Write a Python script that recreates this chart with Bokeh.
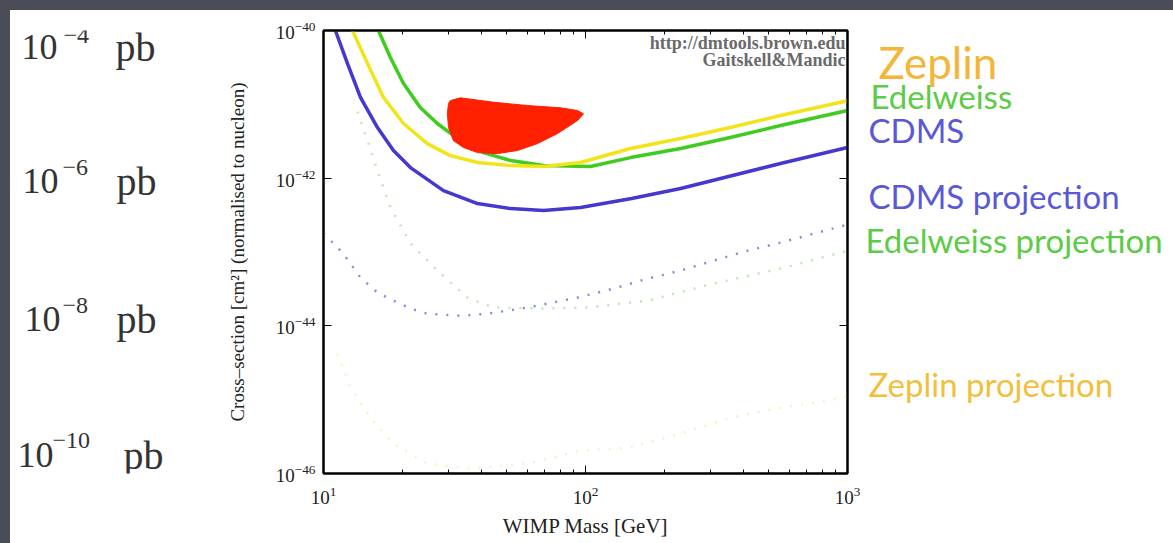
from bokeh.plotting import figure
from bokeh.layouts import row, column
from bokeh.models import Range1d, FixedTicker, LogAxis, Label, CustomJSTickFormatter, Div
from bokeh.core.properties import value
from bokeh.embed import file_html
from bokeh.resources import INLINE

# ---------------- data (WIMP mass in GeV, cross-section in cm^2) ----------------
cdms_mass = [11.1, 12.35, 13.84, 16.07, 18.49, 21.47, 28.7, 38.7, 51.8, 69.2, 95.7, 150, 230.7, 555, 1000]
cdms_xsec = [1e-40, 3.57e-41, 1.24e-41, 4.85e-42, 2.37e-42, 1.39e-42, 6.79e-43, 4.53e-43, 3.87e-43,
             3.64e-43, 4.0e-43, 5.3e-43, 7.23e-43, 1.58e-42, 2.6e-42]

zeplin_mass = [12.9, 14.72, 16.94, 20.2, 24.9, 30.5, 38.7, 51.8, 69.2, 95.7, 148.6, 230.7, 357, 555, 1000]
zeplin_xsec = [1e-40, 3.57e-41, 1.24e-41, 5.5e-42, 2.94e-42, 2.02e-42, 1.63e-42, 1.48e-42, 1.44e-42,
               1.63e-42, 2.52e-42, 3.44e-42, 4.85e-42, 7.05e-42, 1.12e-41]

edelweiss_mass = [16.2, 18.0, 20.2, 23.4, 27.2, 33.3, 40.8, 51.8, 69.2, 104.4, 148.6, 230.7, 357, 555, 1000]
edelweiss_xsec = [1e-40, 4.31e-41, 1.91e-41, 9.06e-42, 5.5e-42, 3.23e-42, 2.22e-42, 1.73e-42, 1.48e-42,
                  1.44e-42, 1.9e-42, 2.52e-42, 3.55e-42, 5.16e-42, 8.24e-42]

cdms_proj_mass = [10.0, 11.9, 13.84, 16.07, 18.5, 21.5, 24.9, 33.3, 42.3, 60.1, 93.2, 127.9, 172.5,
                  230.7, 308.3, 415, 555, 1000]
cdms_proj_xsec = [1.8e-43, 9.5e-44, 4.5e-44, 2.82e-44, 2.19e-44, 1.71e-44, 1.46e-44, 1.37e-44, 1.46e-44,
                  1.77e-44, 2.41e-44, 3.19e-44, 4.36e-44, 5.6e-44, 7.64e-44, 1.04e-43, 1.34e-43, 2.35e-43]

edelweiss_proj_mass = [13.49, 14.72, 16.07, 18.02, 21.5, 27.2, 35.4, 44.6, 69.2, 101.8, 172.5, 308, 555, 1000]
edelweiss_proj_xsec = [7.98e-42, 3.23e-42, 1.27e-42, 4.0e-43, 1.3e-43, 5.6e-44, 2.41e-44, 1.77e-44,
                       1.71e-44, 1.77e-44, 2.19e-44, 3.73e-44, 5.96e-44, 1.04e-43]

zeplin_proj_mass = [11.3, 12.68, 15.1, 18.5, 24.9, 36.4, 61.7, 95.7, 148.6, 230.7, 357, 555, 839, 1000]
zeplin_proj_xsec = [4.2e-45, 1.46e-45, 5.7e-46, 2.53e-46, 1.36e-46, 1.16e-46, 1.4e-46, 2.04e-46,
                    2.24e-46, 3.46e-46, 5.7e-46, 7.8e-46, 9.7e-46, 1.1e-45]

dama_mass = [30.5, 33.3, 44.6, 60.1, 80.3, 93.2, 98.3, 93.2, 78.2, 65.6, 55.0, 46.1, 38.7, 34.2,
             31.3, 30.0, 29.7, 30.0]
dama_xsec = [1.125e-41, 1.225e-41, 1.067e-41, 9.63e-42, 8.97e-42, 8.24e-42, 7.43e-42, 6.03e-42,
             4.02e-42, 2.94e-42, 2.37e-42, 2.15e-42, 2.22e-42, 2.60e-42, 3.23e-42, 4.85e-42,
             7.50e-42, 1.03e-41]

x_ticks = [10, 100, 1000]
x_minor_ticks = [20, 30, 40, 50, 60, 70, 80, 90, 200, 300, 400, 500, 600, 700, 800, 900]
y_ticks = [1e-46, 1e-44, 1e-42, 1e-40]

pb_bases = ["10", "10", "10", "10"]
pb_exponents = ["\u22124", "\u22126", "\u22128", "\u221210"]
pb_units = ["pb", "pb", "pb", "pb"]

legend_texts = ["Zeplin", "Edelweiss", "CDMS", "CDMS projection", "Edelweiss projection", "Zeplin projection"]
legend_colors = ["#f3b53a", "#5ccb46", "#5a58d6", "#5a58d6", "#5ccb46", "#f2bf3c"]

# ---------------- page layout (pixels) ----------------
W, H = 1173, 543
STRIP = 10                      # dark slide border (top and left)
LEFT_W = 200                    # right edge of the panel holding the pb labels
FL, FR, FT, FB = 323, 847, 30, 473   # plot frame edges on the page
RIGHT_X = 860                   # where the legend panel starts
SERIF = "Liberation Serif"
DARK = "#4a4d56"
NOSCROLL = {"overflow": "hidden"}


def side_panel(x0, x1):
    f = figure(frame_width=x1 - x0, frame_height=FB - FT,
               x_range=Range1d(x0, x1), y_range=Range1d(FB, FT),
               min_border_left=0, min_border_right=0, min_border_top=FT - STRIP, min_border_bottom=H - FB,
               x_axis_location=None, y_axis_location=None, output_backend="svg", toolbar_location=None,
               background_fill_color="white", border_fill_color="white", outline_line_color=None)
    f.xgrid.visible = False
    f.ygrid.visible = False
    return f


top_strip = Div(text="", width=W, height=STRIP, margin=(0, 0, 0, 0),
                styles={"background-color": DARK, "overflow": "hidden"})
left_strip = Div(text="", width=STRIP, height=H - STRIP, margin=(0, 0, 0, 0),
                 styles={"background-color": DARK, "overflow": "hidden"})

# ---------------- left panel: pb equivalents ----------------
left = side_panel(STRIP, LEFT_W)
pb_base_x = [21, 22, 24, 17]
pb_exp_x = [63, 62, 62, 52]
pb_unit_x = [115, 116, 116, 123]
pb_mid = [46, 180, 318, 454]          # vertical centres of the "10" digits
pb_exp_mid = [35, 167, 305, 440]
pb_unit_mid = [m + 1 for m in pb_mid]
left.text(x=pb_base_x, y=pb_mid, text=pb_bases, text_font=value(SERIF), text_font_size=value("36px"),
          text_color="#333333", text_baseline="middle")
left.text(x=pb_exp_x, y=pb_exp_mid, text=pb_exponents, text_font=value(SERIF),
          text_font_size=value("24px"), text_color="#333333", text_baseline="middle")
left.text(x=pb_unit_x, y=pb_unit_mid, text=pb_units, text_font=value(SERIF), text_font_size=value("40px"),
          text_color="#333333", text_baseline="middle")

# ---------------- main plot ----------------
p = figure(x_axis_type="log", y_axis_type="log",
           x_range=Range1d(10, 1000), y_range=Range1d(1e-46, 1e-40),
           frame_width=FR - FL, frame_height=FB - FT,
           min_border_left=FL - LEFT_W, min_border_right=RIGHT_X - FR,
           min_border_top=FT - STRIP, min_border_bottom=H - FB,
           output_backend="svg", toolbar_location=None,
           background_fill_color="white", border_fill_color="white")
p.xgrid.visible = False
p.ygrid.visible = False
p.outline_line_color = "black"
p.outline_line_width = 2

# projections (dotted, pale)
p.line(cdms_proj_mass, cdms_proj_xsec, line_color="#8c8ad8", line_width=2.5, line_dash="2 9")
p.line(edelweiss_proj_mass, edelweiss_proj_xsec, line_color="#bfe6b6", line_width=2.5, line_dash="2 9")
p.line(zeplin_proj_mass, zeplin_proj_xsec, line_color="#f3f3c6", line_width=2.5, line_dash="2 9")

# current limits
p.line(edelweiss_mass, edelweiss_xsec, line_color="#3fcc1f", line_width=3.5)
p.line(zeplin_mass, zeplin_xsec, line_color="#f2e41a", line_width=3.5)
p.line(cdms_mass, cdms_xsec, line_color="#4538cf", line_width=3.5)

# DAMA region
p.patch(dama_mass, dama_xsec, fill_color="#ff2000", line_color="#ff2000", line_width=1)

for ax in (p.xaxis[0], p.yaxis[0]):
    ax.axis_line_width = 2
    ax.axis_line_color = "black"
    ax.major_tick_in = 8
    ax.major_tick_out = 0
    ax.minor_tick_in = 4
    ax.minor_tick_out = 0
    ax.major_label_text_font = SERIF
    ax.major_label_text_font_size = "19px"
    ax.major_label_text_color = "#222222"
    ax.axis_label_text_font = SERIF
    ax.axis_label_text_font_style = "normal"
    ax.axis_label_text_color = "#222222"

p.xaxis.ticker = FixedTicker(ticks=x_ticks, minor_ticks=x_minor_ticks)
p.yaxis.ticker = FixedTicker(ticks=y_ticks, minor_ticks=[])
p.xaxis.axis_label = "WIMP Mass [GeV]"
p.xaxis.axis_label_text_font_size = "21px"
p.xaxis.major_label_standoff = 13
p.xaxis.axis_label_standoff = 7
p.yaxis.axis_label = "Cross\u2013section [cm\u00b2] (normalised to nucleon)"
p.yaxis.axis_label_text_font_size = "19px"
p.yaxis.major_label_standoff = 8
p.yaxis.axis_label_standoff = 25

blank = CustomJSTickFormatter(code="return ''")
top = LogAxis(ticker=FixedTicker(ticks=x_ticks, minor_ticks=x_minor_ticks), formatter=blank,
              axis_line_width=2, major_tick_in=8, major_tick_out=0, minor_tick_in=4, minor_tick_out=0,
              major_label_standoff=0)
rgt = LogAxis(ticker=FixedTicker(ticks=y_ticks, minor_ticks=[]), formatter=blank,
              axis_line_width=2, major_tick_in=8, major_tick_out=0, minor_tick_in=4, minor_tick_out=0,
              major_label_standoff=0)
p.add_layout(top, "above")
p.add_layout(rgt, "right")

# credit text inside the frame (offsets from the top-right corner of the frame)
p.add_layout(Label(x=1000, y=1e-40, x_offset=-2, y_offset=-12, text="http://dmtools.brown.edu",
                   text_font=SERIF, text_font_size="18px", text_font_style="bold", text_color="#6a6a6a",
                   text_align="right", text_baseline="middle"))
p.add_layout(Label(x=1000, y=1e-40, x_offset=-2, y_offset=-29, text="Gaitskell&Mandic",
                   text_font=SERIF, text_font_size="18px", text_font_style="bold", text_color="#6a6a6a",
                   text_align="right", text_baseline="middle"))

# ---------------- right panel: coloured experiment names ----------------
right = side_panel(RIGHT_X, W)
leg_x = [878, 870, 868, 868, 865, 868]
leg_mid = [61, 95, 129, 195, 239, 383]     # vertical centres of the capitals
leg_size = ["44px", "33px", "33px", "33px", "33px", "33px"]
right.text(x=leg_x, y=leg_mid, text=legend_texts, text_color=legend_colors, text_font=value("Lato"),
           text_font_size=leg_size, text_baseline="middle")

layout = column(top_strip, row(left_strip, left, p, right, spacing=0, styles=NOSCROLL),
                spacing=0, styles=NOSCROLL)
open("out.html", "w").write(file_html(layout, INLINE))
